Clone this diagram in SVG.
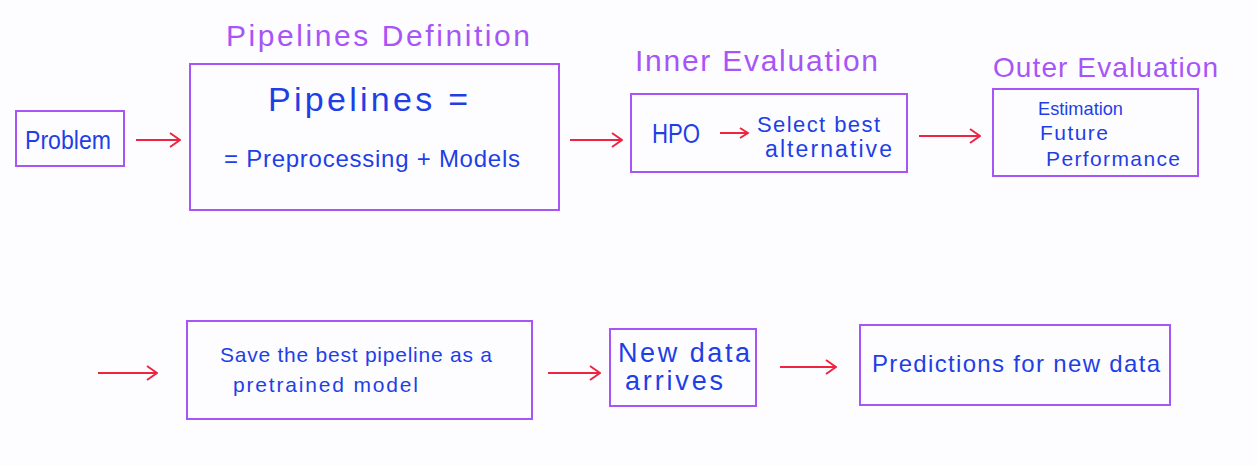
<svg xmlns="http://www.w3.org/2000/svg" width="1258" height="465" viewBox="0 0 1258 465">
<style>
.box{fill:none;stroke:#a855f7;stroke-width:2}
.t{font-family:"Liberation Sans",Arial,sans-serif;fill:#1f3fe6}
.title{font-family:"Liberation Sans",Arial,sans-serif;fill:#a855f7;font-size:30px}
.arr{stroke:#ee2440;stroke-width:2;fill:none;marker-end:url(#ah)}
</style>
<defs>
<marker id="ah" viewBox="0 0 12 16" refX="11" refY="8" markerWidth="12" markerHeight="16" markerUnits="userSpaceOnUse" orient="auto">
<polyline points="1,1 11,8 1,15" fill="none" stroke="#ee2440" stroke-width="2"/>
</marker>
<marker id="ahs" viewBox="0 0 10 12" refX="9" refY="6" markerWidth="10" markerHeight="12" markerUnits="userSpaceOnUse" orient="auto">
<polyline points="1,1 9,6 1,11" fill="none" stroke="#ee2440" stroke-width="2"/>
</marker>
</defs>
<rect width="1258" height="465" fill="#fdfdff"/>
<text class="title" x="226" y="46" textLength="304">Pipelines Definition</text>
<text class="title" x="635" y="71" textLength="243">Inner Evaluation</text>
<text class="title" x="993" y="77" textLength="225" style="font-size:28px">Outer Evaluation</text>
<g id="problem">
<rect class="box" x="16" y="111" width="108" height="55"/>
<text class="t" x="25" y="149" font-size="26" textLength="86" lengthAdjust="spacingAndGlyphs">Problem</text>
</g>
<g id="pipelines">
<rect class="box" x="190" y="64" width="369" height="146"/>
<text class="t" x="268" y="111" font-size="34" textLength="200">Pipelines =</text>
<text class="t" x="224" y="167" font-size="24" textLength="296">= Preprocessing + Models</text>
</g>
<g id="inner">
<rect class="box" x="631" y="94" width="276" height="78"/>
<text class="t" x="652" y="143" font-size="27" textLength="48" lengthAdjust="spacingAndGlyphs">HPO</text>
<text class="t" x="757" y="132" font-size="22" textLength="123">Select best</text>
<text class="t" x="765" y="157" font-size="23" textLength="127">alternative</text>
</g>
<g id="outer">
<rect class="box" x="993" y="89" width="205" height="87"/>
<text class="t" x="1038" y="115" font-size="19" textLength="85" lengthAdjust="spacingAndGlyphs">Estimation</text>
<text class="t" x="1040" y="140" font-size="21" textLength="68">Future</text>
<text class="t" x="1046" y="166" font-size="21" textLength="134">Performance</text>
</g>
<g id="save">
<rect class="box" x="187" y="321" width="345" height="98"/>
<text class="t" x="220" y="362" font-size="21" textLength="272">Save the best pipeline as a</text>
<text class="t" x="233" y="392" font-size="21" textLength="185">pretrained model</text>
</g>
<g id="newdata">
<rect class="box" x="610" y="329" width="146" height="77"/>
<text class="t" x="618" y="362" font-size="27" textLength="132">New data</text>
<text class="t" x="625" y="390" font-size="27" textLength="98">arrives</text>
</g>
<g id="predictions">
<rect class="box" x="860" y="325" width="310" height="80"/>
<text class="t" x="872" y="372" font-size="24" textLength="288">Predictions for new data</text>
</g>
<g id="connectors">
<line class="arr" x1="136" y1="140" x2="180" y2="140"/>
<line class="arr" x1="570" y1="140" x2="622" y2="140"/>
<line class="arr" x1="720" y1="133" x2="748" y2="133" style="marker-end:url(#ahs)"/>
<line class="arr" x1="919" y1="136" x2="980" y2="136"/>
<line class="arr" x1="98" y1="373" x2="157" y2="373"/>
<line class="arr" x1="548" y1="373" x2="600" y2="373"/>
<line class="arr" x1="780" y1="367" x2="836" y2="367"/>
</g>
</svg>
